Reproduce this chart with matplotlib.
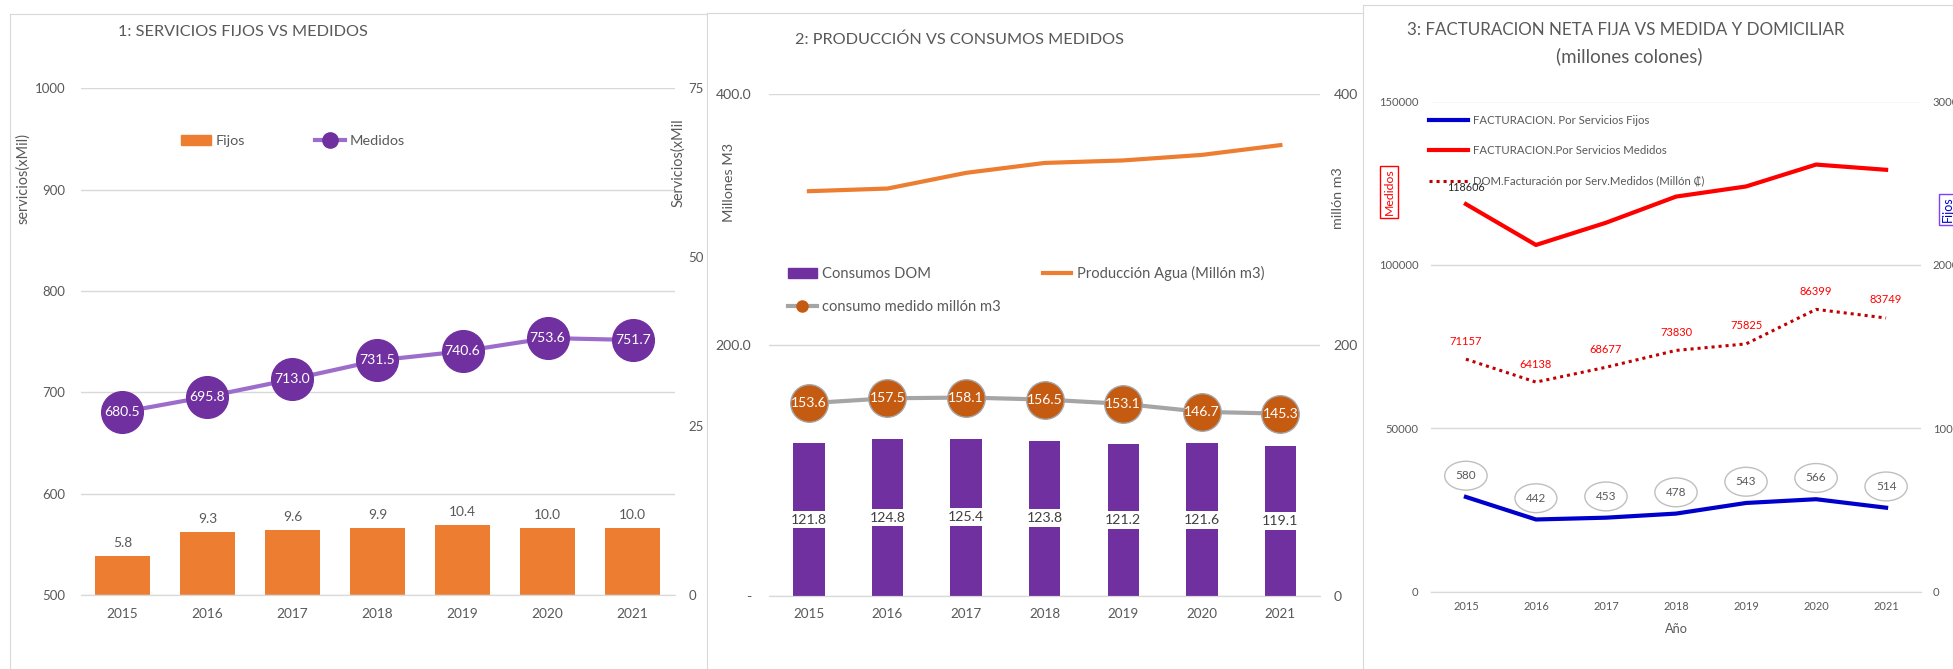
import matplotlib.pyplot as plt
from matplotlib.patches import Patch
from matplotlib.lines import Line2D

plt.rcParams['font.family'] = ['Lato', 'DejaVu Sans']

W, H = 1953, 669

years = ['2015', '2016', '2017', '2018', '2019', '2020', '2021']

# 1: servicios fijos vs medidos (miles)
fijos = [5.8, 9.3, 9.6, 9.9, 10.4, 10.0, 10.0]
medidos = [680.5, 695.8, 713.0, 731.5, 740.6, 753.6, 751.7]

# 2: produccion vs consumos (millon m3)
consumos_dom = [121.8, 124.8, 125.4, 123.8, 121.2, 121.6, 119.1]
produccion_agua = [322.5, 324.6, 337.1, 345.0, 347.0, 351.4, 359.2]
consumo_medido = [153.6, 157.5, 158.1, 156.5, 153.1, 146.7, 145.3]

# 3: facturacion (millones colones)
fact_fijos = [580, 442, 453, 478, 543, 566, 514]
fact_medidos = [118606, 106100, 112900, 120900, 124000, 130700, 129100]
dom_medidos = [71157, 64138, 68677, 73830, 75825, 86399, 83749]

TXT = '#595959'
GRID = '#D9D9D9'

fig = plt.figure(figsize=(W / 100, H / 100), dpi=100)
renderer = fig.canvas.get_renderer()


def size_for(s, target_px):
    # font size that makes text s about target_px wide
    t = fig.text(0, 0, s, fontsize=10)
    w = t.get_window_extent(renderer).width
    t.remove()
    return 10 * target_px / w


def em(px, fs):
    return px / (fs * 100 / 72)


def rect(x0, y0, x1, y1):
    # pixel box, origin top-left -> figure fraction
    return [x0 / W, 1 - y1 / H, (x1 - x0) / W, (y1 - y0) / H]


def fxy(x, y):
    return x / W, 1 - y / H


def label(px, py, s, **kw):
    kw.setdefault('color', TXT)
    kw.setdefault('va', 'center')
    return fig.text(*fxy(px, py), s, zorder=20, **kw)


def panel(x0, y0, z):
    bg = fig.add_axes(rect(x0, y0, W + 20, H + 20), zorder=z)
    bg.set_xticks([])
    bg.set_yticks([])
    for s in bg.spines.values():
        s.set_color(GRID)
    return bg


def clean(ax, size):
    for s in ['top', 'left', 'right']:
        ax.spines[s].set_visible(False)
    ax.spines['bottom'].set_color(GRID)
    ax.tick_params(length=0, colors=TXT, labelsize=size)


x = list(range(len(years)))

# ---------------- panel 1
fs_tick = size_for('1000', 30.8)
fs_val = size_for('680.5', 35.8)
fs_leg = size_for('Medidos', 55.3)

panel(10, 14, 0)
ax1 = fig.add_axes(rect(80.6, 88.3, 674.8, 595.1))
ax1r = ax1.twinx()
ax1r.set_zorder(1)
ax1.set_zorder(1.5)
ax1.patch.set_visible(False)
clean(ax1, fs_tick)
clean(ax1r, fs_tick)
ax1.tick_params(axis='x', labelsize=size_for('2015', 31.7), pad=9)

bars = ax1r.bar(x, fijos, width=0.64, color='#ED7D31')
ax1r.bar_label(bars, labels=[f'{v:.1f}' for v in fijos], padding=5,
               color=TXT, fontsize=size_for('10.4', 27.2))
ax1r.set_ylim(0, 75)
ax1r.set_yticks([0, 25, 50, 75])
ax1r.tick_params(axis='y', pad=10)

ax1.plot(x, medidos, color='#9C6DCB', lw=3, marker='o', ms=30,
         mfc='#7030A0', mec='#7030A0')
for i, v in zip(x, medidos):
    ax1.text(i, v, f'{v:.1f}', ha='center', va='center', color='white', fontsize=fs_val)
ax1.set_ylim(500, 1000)
ax1.set_yticks(range(500, 1001, 100))
ax1.grid(axis='y', color=GRID, lw=1)
ax1.set_xlim(-0.49, 6.495)
ax1.set_xticks(x, years)
ax1.tick_params(axis='y', pad=11)

label(117.8, 32, '1: SERVICIOS FIJOS VS MEDIDOS',
      fontsize=size_for('1: SERVICIOS FIJOS VS MEDIDOS', 246))
fs_ylab = size_for('servicios(xMil)', 90.9)
label(23.5, 178.6, 'servicios(xMil)', rotation=90, ha='center', fontsize=fs_ylab)
label(678, 163, 'Servicios(xMil', rotation=90, ha='center', fontsize=fs_ylab)

h1 = [Patch(color='#ED7D31'),
      Line2D([], [], color='#9C6DCB', lw=3, marker='o', ms=11, mfc='#7030A0', mec='#7030A0')]
ax1.legend(h1, ['Fijos', 'Medidos'], loc='center left', bbox_to_anchor=fxy(181, 141),
           bbox_transform=fig.transFigure, ncol=2, frameon=False, fontsize=fs_leg,
           handlelength=em(29.5, fs_leg), handletextpad=em(5.5, fs_leg),
           columnspacing=em(69.7, fs_leg), borderpad=0, borderaxespad=0, labelcolor=TXT)

# ---------------- panel 2
fs_tick = size_for('400.0', 35.8)
fs_leg = size_for('Producción Agua (Millón m3)', 186.9)

panel(707, 12.6, 2)
ax2 = fig.add_axes(rect(769.4, 93.9, 1319.5, 596))
ax2r = ax2.twinx()
ax2.set_zorder(3)
ax2r.set_zorder(3.5)
ax2.patch.set_visible(False)
clean(ax2, fs_tick)
clean(ax2r, fs_tick)
ax2.tick_params(axis='x', labelsize=size_for('2015', 31.6), pad=9)

bars2 = ax2.bar(x, consumos_dom, width=0.40, color='#7030A0')
ax2.bar_label(bars2, labels=[f'{v:.1f}' for v in consumos_dom], label_type='center',
              fontsize=size_for('121.8', 36.2), color='#404040',
              bbox=dict(fc='white', ec='none', boxstyle='square,pad=0.2'))
ax2.set_ylim(0, 400)
ax2.set_yticks([0, 200, 400], ['-', '200.0', '400.0'])
ax2.grid(axis='y', color=GRID, lw=1)
ax2.set_axisbelow(True)
ax2.set_xlim(-0.503, 6.498)
ax2.set_xticks(x, years)
ax2.tick_params(axis='y', pad=13)

ax2r.plot(x, produccion_agua, color='#ED7D31', lw=3)
ax2r.plot(x, consumo_medido, color='#A5A5A5', lw=3, marker='o', ms=27,
          mfc='#C55A11', mec='#A5A5A5', mew=1)
fs_val = size_for('157.5', 35.8)
for i, v in zip(x, consumo_medido):
    ax2r.text(i, v, f'{v:.1f}', ha='center', va='center', color='white', fontsize=fs_val)
ax2r.set_ylim(0, 400)
ax2r.set_yticks([0, 200, 400], ['0', '200', '400'])
ax2r.tick_params(axis='y', pad=10)

label(794.7, 40, '2: PRODUCCIÓN VS CONSUMOS MEDIDOS',
      fontsize=size_for('2: PRODUCCIÓN VS CONSUMOS MEDIDOS', 326.2))
fs_ylab = size_for('Millones M3', 78.9)
label(728.6, 182.5, 'Millones M3', rotation=90, ha='center', fontsize=fs_ylab)
label(1338.5, 198, 'millón m3', rotation=90, ha='center', fontsize=fs_ylab)

h2 = [Patch(color='#7030A0'),
      Line2D([], [], color='#A5A5A5', lw=3, marker='o', ms=8, mfc='#C55A11', mec='#C55A11'),
      Line2D([], [], color='#ED7D31', lw=3)]
fs_px = fs_leg * 100 / 72
ax2r.legend(h2, ['Consumos DOM', 'consumo medido millón m3', 'Producción Agua (Millón m3)'],
            loc='center left', bbox_to_anchor=fxy(788, 290), bbox_transform=fig.transFigure,
            ncol=2, frameon=False, fontsize=fs_leg, handlelength=em(28.5, fs_leg),
            handletextpad=em(6, fs_leg), columnspacing=em(41.7, fs_leg),
            labelspacing=36.2 / fs_px - 1.2, borderpad=0, borderaxespad=0, labelcolor=TXT)

# ---------------- panel 3
fs_tick = size_for('150000', 39)
fs_val = size_for('71157', 32.5)
fs_leg = size_for('FACTURACION. Por Servicios Fijos', 176.7)

panel(1363, 5, 4)
ax3 = fig.add_axes(rect(1431.1, 101.5, 1920.9, 591.7))
ax3r = ax3.twinx()
ax3.set_zorder(5)
ax3r.set_zorder(5.5)
ax3.patch.set_visible(False)
clean(ax3, fs_tick)
clean(ax3r, fs_tick)
ax3.tick_params(axis='x', labelsize=size_for('2015', 25.7), pad=7)

ax3.plot(x, fact_medidos, color='#FF0000', lw=3)
ax3.plot(x, dom_medidos, color='#C00000', lw=2.2, ls=(0, (1, 1.3)))
ax3.annotate(f'{fact_medidos[0]}', (0, fact_medidos[0]), xytext=(0, 12),
             textcoords='offset points', ha='center', va='center',
             fontsize=size_for('118606', 37.7), color='#262626')
for i, v in zip(x, dom_medidos):
    ax3.annotate(f'{v}', (i, v), xytext=(0, 13), textcoords='offset points',
                 ha='center', va='center', fontsize=fs_val, color='#FF0000')
ax3.set_ylim(0, 150000)
ax3.set_yticks(range(0, 150001, 50000))
ax3.grid(axis='y', color=GRID, lw=1)
ax3.set_xlim(-0.497, 6.497)
ax3.set_xticks(x, years)
ax3.tick_params(axis='y', pad=9)

ax3r.plot(x, fact_fijos, color='#0000CC', lw=3)
fs_ell = size_for('580', 20.4)
for i, v in zip(x, fact_fijos):
    ax3r.annotate(f'{v}', (i, v), xytext=(0, 15.3), textcoords='offset points',
                  ha='center', va='center', fontsize=fs_ell, color=TXT,
                  bbox=dict(boxstyle='ellipse,pad=0.4', fc='white', ec='#BFBFBF', lw=1))
ax3r.set_ylim(0, 3000)
ax3r.set_yticks(range(0, 3001, 1000))
ax3r.tick_params(axis='y', pad=8.6)

label(1626, 30, '3: FACTURACION NETA FIJA VS MEDIDA Y DOMICILIAR', ha='center',
      fontsize=size_for('3: FACTURACION NETA FIJA VS MEDIDA Y DOMICILIAR', 436.3))
label(1629, 56.7, '(millones colones)', ha='center',
      fontsize=size_for('(millones colones)', 146.7))
label(1676, 629.3, 'Año', ha='center', fontsize=size_for('Año', 23))
label(1389, 192, 'Medidos', rotation=90, ha='center', fontsize=size_for('Medidos', 47),
      color='#FF0000', bbox=dict(boxstyle='square,pad=0.25', fc='white', ec='#FF0000', lw=1))
label(1948, 209.5, 'Fijos', rotation=90, ha='center', fontsize=size_for('Fijos', 25.7),
      color='#0000CC', bbox=dict(boxstyle='square,pad=0.25', fc='white', ec='#7F3FFF', lw=1))

h3 = [Line2D([], [], color='#0000CC', lw=3),
      Line2D([], [], color='#FF0000', lw=3),
      Line2D([], [], color='#C00000', lw=2.2, ls=(0, (1, 1.3)))]
fs_px = fs_leg * 100 / 72
ax3r.legend(h3, ['FACTURACION. Por Servicios Fijos', 'FACTURACION.Por Servicios Medidos',
                 'DOM.Facturación por Serv.Medidos (Millón ₡)'],
            loc='center left', bbox_to_anchor=fxy(1429, 151), bbox_transform=fig.transFigure,
            frameon=False, fontsize=fs_leg, handlelength=em(38.7, fs_leg),
            handletextpad=em(5.6, fs_leg), labelspacing=33 / fs_px - 1.2,
            borderpad=0, borderaxespad=0, labelcolor=TXT)

fig.savefig('out.png', dpi=100)
